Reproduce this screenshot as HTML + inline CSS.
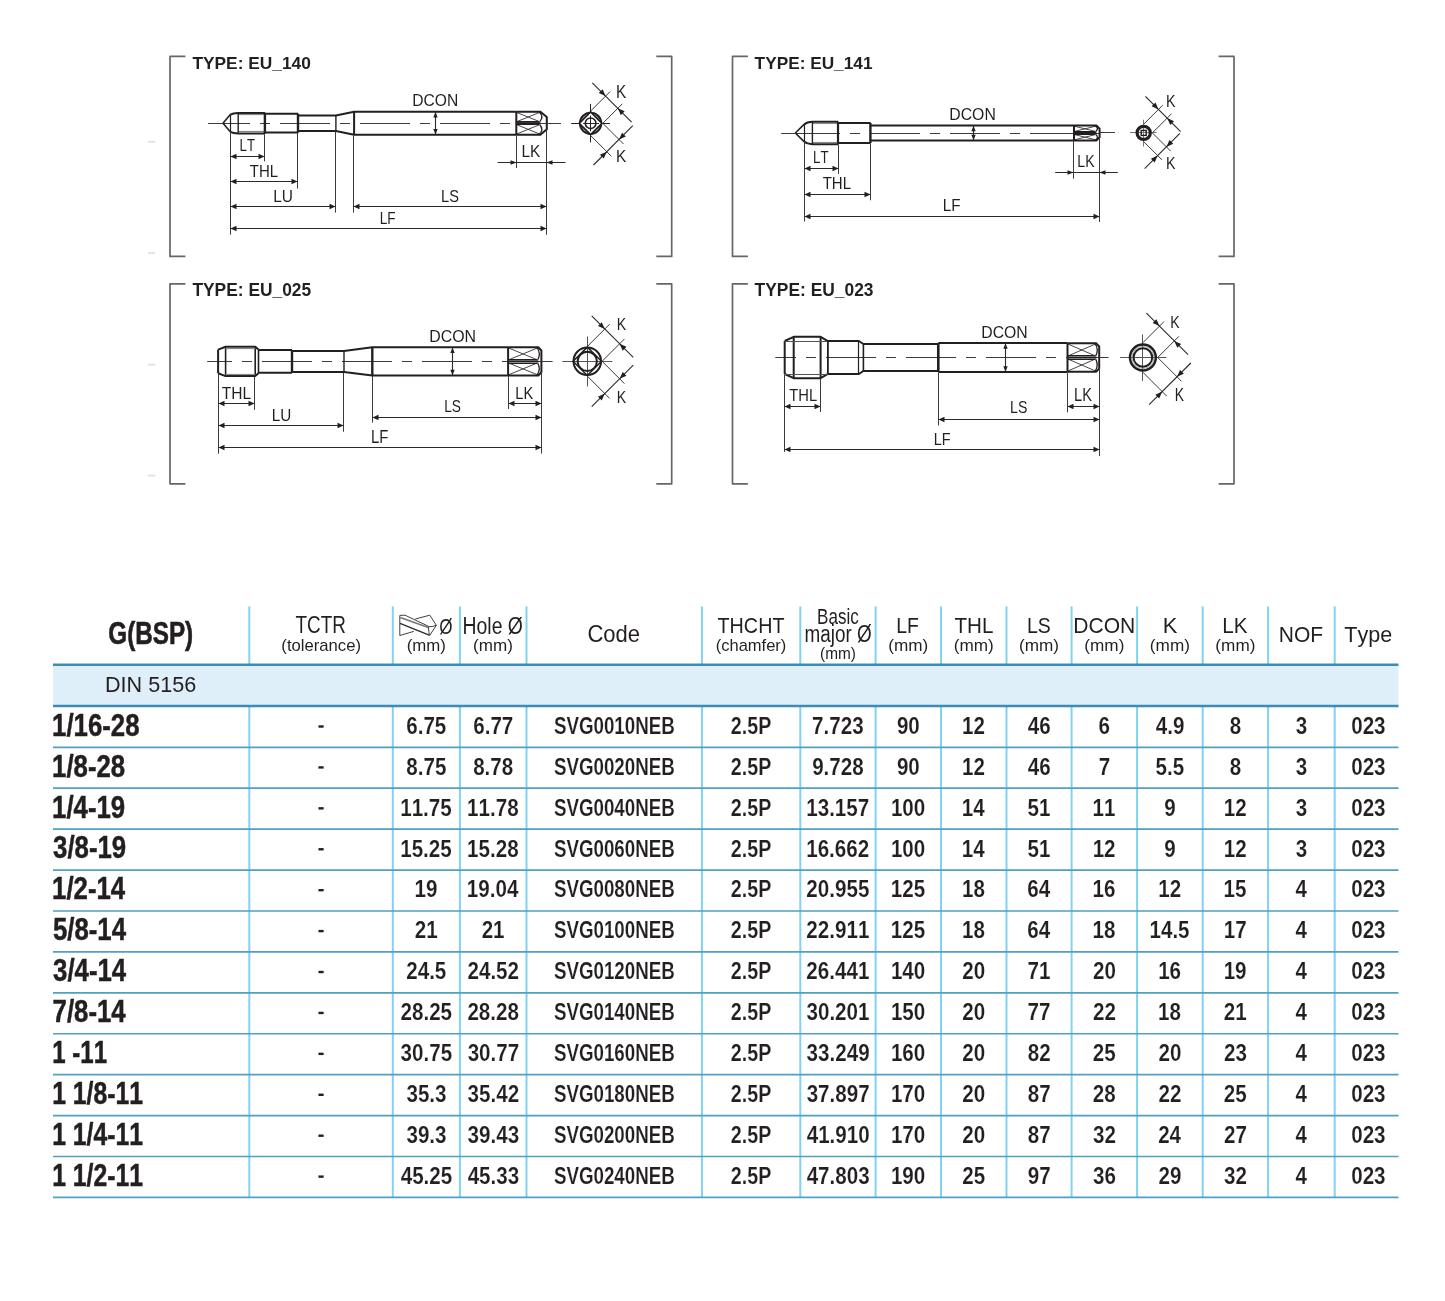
<!DOCTYPE html><html><head><meta charset="utf-8"><title>G(BSP) DIN 5156</title><style>html,body{margin:0;padding:0;background:#fff;}body{width:1445px;height:1301px;overflow:hidden;position:relative;}svg{position:absolute;left:0;top:0;will-change:transform;font-family:"Liberation Sans",sans-serif;font-kerning:none;}text{font-kerning:none;}</style></head><body>
<svg width="1445" height="1301" viewBox="0 0 1445 1301">
<line x1="148" y1="141.8" x2="155.2" y2="141.8" stroke="#e3e3e3" stroke-width="2"/>
<line x1="148" y1="253.1" x2="155.2" y2="253.1" stroke="#e3e3e3" stroke-width="2"/>
<line x1="148" y1="364.6" x2="155.2" y2="364.6" stroke="#e3e3e3" stroke-width="2"/>
<line x1="148" y1="475.6" x2="155.2" y2="475.6" stroke="#e3e3e3" stroke-width="2"/>
<path d="M185.4 56.4 L170 56.4 L170 256.4 L185.4 256.4" stroke="#666" stroke-width="1.7" fill="none" stroke-linejoin="round"/>
<path d="M656.3 56.4 L671.7 56.4 L671.7 256.4 L656.3 256.4" stroke="#666" stroke-width="1.7" fill="none" stroke-linejoin="round"/>
<path d="M747.9 56.4 L732.5 56.4 L732.5 256.4 L747.9 256.4" stroke="#666" stroke-width="1.7" fill="none" stroke-linejoin="round"/>
<path d="M1218.6 56.4 L1234 56.4 L1234 256.4 L1218.6 256.4" stroke="#666" stroke-width="1.7" fill="none" stroke-linejoin="round"/>
<path d="M185.4 283.8 L170 283.8 L170 483.8 L185.4 483.8" stroke="#666" stroke-width="1.7" fill="none" stroke-linejoin="round"/>
<path d="M656.3 283.8 L671.7 283.8 L671.7 483.8 L656.3 483.8" stroke="#666" stroke-width="1.7" fill="none" stroke-linejoin="round"/>
<path d="M747.9 283.8 L732.5 283.8 L732.5 483.8 L747.9 483.8" stroke="#666" stroke-width="1.7" fill="none" stroke-linejoin="round"/>
<path d="M1218.6 283.8 L1234 283.8 L1234 483.8 L1218.6 483.8" stroke="#666" stroke-width="1.7" fill="none" stroke-linejoin="round"/>
<text x="192.41" y="68.5" style="font-size:17.3px;font-weight:bold;" fill="#231f20" textLength="118.51" lengthAdjust="spacingAndGlyphs">TYPE: EU_140</text>
<text x="754.61" y="68.5" style="font-size:17.3px;font-weight:bold;" fill="#231f20" textLength="117.87" lengthAdjust="spacingAndGlyphs">TYPE: EU_141</text>
<text x="192.4" y="296.1" style="font-size:17.73px;font-weight:bold;" fill="#231f20" textLength="118.78" lengthAdjust="spacingAndGlyphs">TYPE: EU_025</text>
<text x="754.6" y="296.1" style="font-size:17.73px;font-weight:bold;" fill="#231f20" textLength="118.92" lengthAdjust="spacingAndGlyphs">TYPE: EU_023</text>
<line x1="208" y1="123.5" x2="223" y2="123.5" stroke="#3c3c3c" stroke-width="1"/>
<line x1="223" y1="123.5" x2="546.8" y2="123.5" stroke="#3c3c3c" stroke-width="1" stroke-dasharray="50 10 10 10" stroke-dashoffset="23"/>
<path d="M223 123.2 L230.3 114.6" stroke="#231f20" stroke-width="1.6" fill="none" stroke-linejoin="round"/>
<path d="M223 123.2 L230.3 131.8" stroke="#231f20" stroke-width="1.6" fill="none" stroke-linejoin="round"/>
<path d="M230.3 114.6 Q233 113 238.2 112.9 L265 112.9" stroke="#231f20" stroke-width="2" fill="none"/>
<path d="M230.3 131.8 Q233 133.4 238.2 133.5 L265 133.5" stroke="#231f20" stroke-width="2" fill="none"/>
<path d="M265 113.8 L298.2 113.8" stroke="#231f20" stroke-width="2" fill="none" stroke-linejoin="round"/>
<path d="M265 132.6 L298.2 132.6" stroke="#231f20" stroke-width="2" fill="none" stroke-linejoin="round"/>
<path d="M298.2 115.4 L335.9 115.4 L354.1 111.7 L516.3 111.7" stroke="#231f20" stroke-width="2" fill="none" stroke-linejoin="round"/>
<path d="M298.2 131 L335.9 131 L354.1 134.7 L516.3 134.7" stroke="#231f20" stroke-width="2" fill="none" stroke-linejoin="round"/>
<line x1="238.2" y1="114.5" x2="265" y2="114.5" stroke="#888" stroke-width="1.2"/>
<line x1="238.2" y1="131.5" x2="265" y2="131.5" stroke="#888" stroke-width="1.2"/>
<line x1="230.5" y1="114.6" x2="230.5" y2="131.8" stroke="#231f20" stroke-width="1.2"/>
<line x1="238.2" y1="112.9" x2="238.2" y2="133.5" stroke="#231f20" stroke-width="1.4"/>
<line x1="264.9" y1="112.9" x2="264.9" y2="133.5" stroke="#231f20" stroke-width="2.4"/>
<line x1="298" y1="113.8" x2="298" y2="132.6" stroke="#231f20" stroke-width="2.4"/>
<line x1="335.9" y1="115.4" x2="335.9" y2="131" stroke="#231f20" stroke-width="1.4"/>
<line x1="354.1" y1="111.7" x2="354.1" y2="134.7" stroke="#231f20" stroke-width="2"/>
<line x1="516.9" y1="112.5" x2="539.4" y2="121.6" stroke="#333" stroke-width="0.9"/>
<line x1="516.9" y1="121.6" x2="539.4" y2="112.5" stroke="#333" stroke-width="0.9"/>
<line x1="516.9" y1="133.9" x2="539.4" y2="124.8" stroke="#333" stroke-width="0.9"/>
<line x1="516.9" y1="124.8" x2="539.4" y2="133.9" stroke="#333" stroke-width="0.9"/>
<line x1="516.3" y1="123.2" x2="540.4" y2="123.2" stroke="#231f20" stroke-width="2.2"/>
<line x1="516.3" y1="121.5" x2="539.4" y2="121.5" stroke="#231f20" stroke-width="1"/>
<line x1="516.3" y1="124.5" x2="539.4" y2="124.5" stroke="#231f20" stroke-width="1"/>
<path d="M539.2 112.1 Q544.2 116.65 539.8 121.6" stroke="#231f20" stroke-width="1.3" fill="none"/>
<path d="M539.8 124.8 Q544.2 129.75 539.2 134.3" stroke="#231f20" stroke-width="1.3" fill="none"/>
<path d="M516.3 111.7 L540.4 111.7 L546.8 117.1 L546.8 129.3 L540.4 134.7 L516.3 134.7" stroke="#231f20" stroke-width="2" fill="none" stroke-linejoin="round"/>
<line x1="516.3" y1="111.7" x2="516.3" y2="134.7" stroke="#231f20" stroke-width="2"/>
<line x1="435.5" y1="112" x2="435.5" y2="134.4" stroke="#2a2a2a" stroke-width="1.1"/>
<path d="M435.5 112L437.7 117.5L433.3 117.5Z" fill="#231f20"/>
<path d="M435.5 134.4L433.3 128.9L437.7 128.9Z" fill="#231f20"/>
<text x="412.32" y="106.4" style="font-size:16.72px;" fill="#231f20" textLength="45.95" lengthAdjust="spacingAndGlyphs">DCON</text>
<line x1="230.5" y1="133" x2="230.5" y2="234.6" stroke="#3a3a3a" stroke-width="1"/>
<line x1="264.5" y1="134.3" x2="264.5" y2="161.4" stroke="#3a3a3a" stroke-width="1"/>
<line x1="297.5" y1="133" x2="297.5" y2="188.6" stroke="#3a3a3a" stroke-width="1"/>
<line x1="335.5" y1="131.5" x2="335.5" y2="212.6" stroke="#3a3a3a" stroke-width="1"/>
<line x1="353.5" y1="135.5" x2="353.5" y2="212.6" stroke="#3a3a3a" stroke-width="1"/>
<line x1="516.5" y1="135.5" x2="516.5" y2="168" stroke="#3a3a3a" stroke-width="1"/>
<line x1="546.5" y1="129.5" x2="546.5" y2="234.8" stroke="#3a3a3a" stroke-width="1"/>
<line x1="230.5" y1="156.5" x2="264.5" y2="156.5" stroke="#2a2a2a" stroke-width="1.1"/>
<path d="M230.5 156.5L236.5 153.8L236.5 159.2Z" fill="#231f20"/>
<path d="M264.5 156.5L258.5 159.2L258.5 153.8Z" fill="#231f20"/>
<text x="239.51" y="150.5" style="font-size:17.15px;" fill="#231f20" textLength="15.49" lengthAdjust="spacingAndGlyphs">LT</text>
<line x1="230.5" y1="181.5" x2="297.5" y2="181.5" stroke="#2a2a2a" stroke-width="1.1"/>
<path d="M230.5 181.5L236.5 178.8L236.5 184.2Z" fill="#231f20"/>
<path d="M297.5 181.5L291.5 184.2L291.5 178.8Z" fill="#231f20"/>
<text x="249.86" y="177.4" style="font-size:17.15px;" fill="#231f20" textLength="28.33" lengthAdjust="spacingAndGlyphs">THL</text>
<line x1="230.5" y1="206.5" x2="335.5" y2="206.5" stroke="#2a2a2a" stroke-width="1.1"/>
<path d="M230.5 206.5L236.5 203.8L236.5 209.2Z" fill="#231f20"/>
<path d="M335.5 206.5L329.5 209.2L329.5 203.8Z" fill="#231f20"/>
<text x="273.23" y="201.7" style="font-size:17.15px;" fill="#231f20" textLength="19.76" lengthAdjust="spacingAndGlyphs">LU</text>
<line x1="353.5" y1="206.5" x2="546.5" y2="206.5" stroke="#2a2a2a" stroke-width="1.1"/>
<path d="M353.5 206.5L359.5 203.8L359.5 209.2Z" fill="#231f20"/>
<path d="M546.5 206.5L540.5 209.2L540.5 203.8Z" fill="#231f20"/>
<text x="441.1" y="202.1" style="font-size:17.15px;" fill="#231f20" textLength="17.87" lengthAdjust="spacingAndGlyphs">LS</text>
<line x1="230.5" y1="228.5" x2="546.5" y2="228.5" stroke="#2a2a2a" stroke-width="1.1"/>
<path d="M230.5 228.5L236.5 225.8L236.5 231.2Z" fill="#231f20"/>
<path d="M546.5 228.5L540.5 231.2L540.5 225.8Z" fill="#231f20"/>
<text x="379.69" y="223.5" style="font-size:17.15px;" fill="#231f20" textLength="15.86" lengthAdjust="spacingAndGlyphs">LF</text>
<line x1="497.6" y1="162.5" x2="565.5" y2="162.5" stroke="#2a2a2a" stroke-width="1.1"/>
<path d="M516.5 162.5L510.5 164.8L510.5 160.2Z" fill="#231f20"/>
<path d="M546.5 162.5L552.5 160.2L552.5 164.8Z" fill="#231f20"/>
<text x="521.43" y="156.6" style="font-size:17.15px;" fill="#231f20" textLength="18.94" lengthAdjust="spacingAndGlyphs">LK</text>
<line x1="546.8" y1="123.5" x2="561" y2="123.5" stroke="#3c3c3c" stroke-width="1"/>
<circle cx="590.6" cy="123.3" r="10.7" fill="#b3b3b3" stroke="#231f20" stroke-width="1.9"/>
<path d="M590.6 111.9L602 123.3L590.6 134.7L579.2 123.3Z" fill="#fff" stroke="#231f20" stroke-width="1.7" stroke-linejoin="round"/>
<circle cx="590.6" cy="123.3" r="5.3" fill="none" stroke="#231f20" stroke-width="1.6"/>
<line x1="571.2" y1="123.5" x2="579.6" y2="123.5" stroke="#222" stroke-width="1"/>
<line x1="601.6" y1="123.5" x2="610" y2="123.5" stroke="#222" stroke-width="1"/>
<line x1="590.5" y1="103.9" x2="590.5" y2="112.3" stroke="#222" stroke-width="1"/>
<line x1="590.5" y1="134.3" x2="590.5" y2="142.4" stroke="#222" stroke-width="1"/>
<line x1="583.2" y1="123.5" x2="598.9" y2="123.5" stroke="#222" stroke-width="1"/>
<line x1="590.5" y1="115.6" x2="590.5" y2="131.3" stroke="#222" stroke-width="1"/>
<line x1="590.6" y1="111.1" x2="610.13" y2="91.57" stroke="#3a3a3a" stroke-width="1"/>
<line x1="602.8" y1="123.3" x2="622.33" y2="103.77" stroke="#3a3a3a" stroke-width="1"/>
<line x1="592.31" y1="82.81" x2="631.59" y2="122.09" stroke="#2a2a2a" stroke-width="1.1"/>
<path d="M605.6 96.1L598.74 93.06L602.56 89.24Z" fill="#231f20"/>
<path d="M617.8 108.3L624.66 111.34L620.84 115.16Z" fill="#231f20"/>
<line x1="590.6" y1="135.5" x2="611.33" y2="156.23" stroke="#3a3a3a" stroke-width="1"/>
<line x1="602.8" y1="123.3" x2="623.53" y2="144.03" stroke="#3a3a3a" stroke-width="1"/>
<line x1="593.51" y1="164.99" x2="632.79" y2="125.71" stroke="#2a2a2a" stroke-width="1.1"/>
<path d="M606.8 151.7L603.76 158.56L599.94 154.74Z" fill="#231f20"/>
<path d="M619 139.5L622.04 132.64L625.86 136.46Z" fill="#231f20"/>
<text x="615.94" y="97.5" style="font-size:17.44px;" fill="#231f20" textLength="10.23" lengthAdjust="spacingAndGlyphs">K</text>
<text x="615.94" y="161.8" style="font-size:17.15px;" fill="#231f20" textLength="10.23" lengthAdjust="spacingAndGlyphs">K</text>
<line x1="781.2" y1="133.5" x2="795.3" y2="133.5" stroke="#3c3c3c" stroke-width="1"/>
<line x1="795.3" y1="133.5" x2="1099.6" y2="133.5" stroke="#3c3c3c" stroke-width="1" stroke-dasharray="50 10 10 10" stroke-dashoffset="5.3"/>
<path d="M795.3 133 L804.1 124.4" stroke="#231f20" stroke-width="1.6" fill="none" stroke-linejoin="round"/>
<path d="M795.3 133 L804.1 141.6" stroke="#231f20" stroke-width="1.6" fill="none" stroke-linejoin="round"/>
<path d="M804.1 124.4 Q807 122 812.4 121.8 L838.2 121.8" stroke="#231f20" stroke-width="2" fill="none"/>
<path d="M804.1 141.6 Q807 144 812.4 144.2 L838.2 144.2" stroke="#231f20" stroke-width="2" fill="none"/>
<path d="M838.2 123 L870.6 123" stroke="#231f20" stroke-width="2" fill="none" stroke-linejoin="round"/>
<path d="M838.2 143 L870.6 143" stroke="#231f20" stroke-width="2" fill="none" stroke-linejoin="round"/>
<path d="M870.6 125.45 L1074 125.45" stroke="#231f20" stroke-width="2" fill="none" stroke-linejoin="round"/>
<path d="M870.6 140.55 L1074 140.55" stroke="#231f20" stroke-width="2" fill="none" stroke-linejoin="round"/>
<line x1="812.4" y1="123.5" x2="838.2" y2="123.5" stroke="#888" stroke-width="1.1"/>
<line x1="812.4" y1="142.5" x2="838.2" y2="142.5" stroke="#888" stroke-width="1.1"/>
<line x1="804.5" y1="124.4" x2="804.5" y2="141.6" stroke="#231f20" stroke-width="1.2"/>
<line x1="812.4" y1="121.8" x2="812.4" y2="144.2" stroke="#231f20" stroke-width="1.4"/>
<line x1="838" y1="121.8" x2="838" y2="144.2" stroke="#231f20" stroke-width="2.2"/>
<line x1="870.4" y1="123" x2="870.4" y2="143" stroke="#231f20" stroke-width="2.4"/>
<line x1="1074.6" y1="126.25" x2="1095.4" y2="131.4" stroke="#333" stroke-width="0.9"/>
<line x1="1074.6" y1="131.4" x2="1095.4" y2="126.25" stroke="#333" stroke-width="0.9"/>
<line x1="1074.6" y1="139.75" x2="1095.4" y2="134.6" stroke="#333" stroke-width="0.9"/>
<line x1="1074.6" y1="134.6" x2="1095.4" y2="139.75" stroke="#333" stroke-width="0.9"/>
<line x1="1074" y1="133" x2="1096.4" y2="133" stroke="#231f20" stroke-width="2.2"/>
<line x1="1074" y1="131.5" x2="1095.4" y2="131.5" stroke="#231f20" stroke-width="1"/>
<line x1="1074" y1="134.5" x2="1095.4" y2="134.5" stroke="#231f20" stroke-width="1"/>
<path d="M1095.2 125.85 Q1099.36 128.43 1095.8 131.4" stroke="#231f20" stroke-width="1.3" fill="none"/>
<path d="M1095.8 134.6 Q1099.36 137.57 1095.2 140.15" stroke="#231f20" stroke-width="1.3" fill="none"/>
<path d="M1074 125.45 L1096.4 125.45 L1099.6 128.75 L1099.6 137.25 L1096.4 140.55 L1074 140.55" stroke="#231f20" stroke-width="2" fill="none" stroke-linejoin="round"/>
<line x1="1074" y1="125.45" x2="1074" y2="140.55" stroke="#231f20" stroke-width="2"/>
<line x1="973.5" y1="125.7" x2="973.5" y2="140.3" stroke="#2a2a2a" stroke-width="1.1"/>
<path d="M973.5 125.7L975.7 131.2L971.3 131.2Z" fill="#231f20"/>
<path d="M973.5 140.3L971.3 134.8L975.7 134.8Z" fill="#231f20"/>
<text x="949.3" y="119.7" style="font-size:17.15px;" fill="#231f20" textLength="46.48" lengthAdjust="spacingAndGlyphs">DCON</text>
<line x1="804.5" y1="142" x2="804.5" y2="221.5" stroke="#3a3a3a" stroke-width="1"/>
<line x1="838.5" y1="144.5" x2="838.5" y2="173.8" stroke="#3a3a3a" stroke-width="1"/>
<line x1="870.5" y1="143.5" x2="870.5" y2="200.3" stroke="#3a3a3a" stroke-width="1"/>
<line x1="1073.5" y1="141" x2="1073.5" y2="178.7" stroke="#3a3a3a" stroke-width="1"/>
<line x1="1099.5" y1="138" x2="1099.5" y2="222" stroke="#3a3a3a" stroke-width="1"/>
<line x1="804.5" y1="168.5" x2="838.5" y2="168.5" stroke="#2a2a2a" stroke-width="1.1"/>
<path d="M804.5 168.5L810.5 165.8L810.5 171.2Z" fill="#231f20"/>
<path d="M838.5 168.5L832.5 171.2L832.5 165.8Z" fill="#231f20"/>
<text x="813.01" y="162.6" style="font-size:17.15px;" fill="#231f20" textLength="15.49" lengthAdjust="spacingAndGlyphs">LT</text>
<line x1="804.5" y1="194.5" x2="870.5" y2="194.5" stroke="#2a2a2a" stroke-width="1.1"/>
<path d="M804.5 194.5L810.5 191.8L810.5 197.2Z" fill="#231f20"/>
<path d="M870.5 194.5L864.5 197.2L864.5 191.8Z" fill="#231f20"/>
<text x="822.66" y="189.1" style="font-size:17.15px;" fill="#231f20" textLength="28.44" lengthAdjust="spacingAndGlyphs">THL</text>
<line x1="804.5" y1="216.5" x2="1099.5" y2="216.5" stroke="#2a2a2a" stroke-width="1.1"/>
<path d="M804.5 216.5L810.5 213.8L810.5 219.2Z" fill="#231f20"/>
<path d="M1099.5 216.5L1093.5 219.2L1093.5 213.8Z" fill="#231f20"/>
<text x="942.75" y="210.8" style="font-size:17.15px;" fill="#231f20" textLength="17.76" lengthAdjust="spacingAndGlyphs">LF</text>
<line x1="1055.2" y1="172.5" x2="1117.8" y2="172.5" stroke="#2a2a2a" stroke-width="1.1"/>
<path d="M1073.5 172.5L1067.5 174.8L1067.5 170.2Z" fill="#231f20"/>
<path d="M1099.5 172.5L1105.5 170.2L1105.5 174.8Z" fill="#231f20"/>
<text x="1077.35" y="167.3" style="font-size:17.15px;" fill="#231f20" textLength="17.21" lengthAdjust="spacingAndGlyphs">LK</text>
<line x1="1099.6" y1="132.5" x2="1115" y2="132.5" stroke="#3c3c3c" stroke-width="1"/>
<line x1="1130" y1="132.5" x2="1156.7" y2="132.5" stroke="#777" stroke-width="1"/>
<line x1="1143.5" y1="119.7" x2="1143.5" y2="146.5" stroke="#777" stroke-width="1"/>
<circle cx="1143.7" cy="132.9" r="6.6" fill="none" stroke="#231f20" stroke-width="3.2"/>
<rect x="1141.2" y="130.4" width="5" height="5" fill="none" stroke="#231f20" stroke-width="1.4"/>
<line x1="1143.7" y1="124.2" x2="1162.74" y2="105.16" stroke="#3a3a3a" stroke-width="1"/>
<line x1="1152.4" y1="132.9" x2="1171.44" y2="113.86" stroke="#3a3a3a" stroke-width="1"/>
<line x1="1145.42" y1="96.32" x2="1180.64" y2="131.54" stroke="#2a2a2a" stroke-width="1.1"/>
<path d="M1158.5 109.4L1151.64 106.36L1155.46 102.54Z" fill="#231f20"/>
<path d="M1167.2 118.1L1174.06 121.14L1170.24 124.96Z" fill="#231f20"/>
<line x1="1143.7" y1="141.6" x2="1161.94" y2="159.84" stroke="#3a3a3a" stroke-width="1"/>
<line x1="1152.4" y1="132.9" x2="1170.64" y2="151.14" stroke="#3a3a3a" stroke-width="1"/>
<line x1="1144.62" y1="168.68" x2="1179.84" y2="133.46" stroke="#2a2a2a" stroke-width="1.1"/>
<path d="M1157.7 155.6L1154.66 162.46L1150.84 158.64Z" fill="#231f20"/>
<path d="M1166.4 146.9L1169.44 140.04L1173.26 143.86Z" fill="#231f20"/>
<text x="1166.03" y="107.3" style="font-size:17.01px;" fill="#231f20" textLength="9.53" lengthAdjust="spacingAndGlyphs">K</text>
<text x="1166.03" y="169" style="font-size:17.01px;" fill="#231f20" textLength="9.53" lengthAdjust="spacingAndGlyphs">K</text>
<line x1="207.2" y1="361.5" x2="218.1" y2="361.5" stroke="#3c3c3c" stroke-width="1"/>
<line x1="218.1" y1="361.5" x2="541.4" y2="361.5" stroke="#3c3c3c" stroke-width="1" stroke-dasharray="50 10 10 10" stroke-dashoffset="36.1"/>
<line x1="218.1" y1="349.6" x2="218.1" y2="373.2" stroke="#231f20" stroke-width="2"/>
<path d="M218.1 349.6 L225.6 346.7 L255.2 346.7 L258.5 349.6" stroke="#231f20" stroke-width="2" fill="none" stroke-linejoin="round"/>
<path d="M218.1 373.2 L225.6 376.1 L255.2 376.1 L258.5 373.2" stroke="#231f20" stroke-width="2" fill="none" stroke-linejoin="round"/>
<line x1="225.6" y1="346.7" x2="225.6" y2="376.1" stroke="#231f20" stroke-width="1.6"/>
<line x1="255.2" y1="346.7" x2="255.2" y2="376.1" stroke="#231f20" stroke-width="1.6"/>
<line x1="225.6" y1="348.5" x2="255.2" y2="348.5" stroke="#888" stroke-width="1.2"/>
<line x1="225.6" y1="374.5" x2="255.2" y2="374.5" stroke="#888" stroke-width="1.2"/>
<line x1="258.5" y1="349.6" x2="258.5" y2="373.2" stroke="#231f20" stroke-width="1.6"/>
<path d="M258.5 350 L292 350" stroke="#231f20" stroke-width="2" fill="none" stroke-linejoin="round"/>
<path d="M258.5 372.8 L292 372.8" stroke="#231f20" stroke-width="2" fill="none" stroke-linejoin="round"/>
<line x1="292" y1="350" x2="292" y2="372.8" stroke="#231f20" stroke-width="2.4"/>
<path d="M292 350.9 L344 350.9 L372.3 347.3 L508.1 347.3" stroke="#231f20" stroke-width="2" fill="none" stroke-linejoin="round"/>
<path d="M292 371.9 L344 371.9 L372.3 375.5 L508.1 375.5" stroke="#231f20" stroke-width="2" fill="none" stroke-linejoin="round"/>
<line x1="344" y1="350.9" x2="344" y2="371.9" stroke="#231f20" stroke-width="1.4"/>
<line x1="372.3" y1="347.3" x2="372.3" y2="375.5" stroke="#231f20" stroke-width="2.4"/>
<line x1="508.7" y1="348.05" x2="537.3" y2="359.8" stroke="#333" stroke-width="0.9"/>
<line x1="508.7" y1="359.8" x2="537.3" y2="348.05" stroke="#333" stroke-width="0.9"/>
<line x1="508.7" y1="374.75" x2="537.3" y2="363" stroke="#333" stroke-width="0.9"/>
<line x1="508.7" y1="363" x2="537.3" y2="374.75" stroke="#333" stroke-width="0.9"/>
<line x1="508.1" y1="361.4" x2="538.3" y2="361.4" stroke="#231f20" stroke-width="2.2"/>
<line x1="508.1" y1="359.5" x2="537.3" y2="359.5" stroke="#231f20" stroke-width="1"/>
<line x1="508.1" y1="363.5" x2="537.3" y2="363.5" stroke="#231f20" stroke-width="1"/>
<path d="M537.1 347.65 Q541.21 353.52 537.7 359.8" stroke="#231f20" stroke-width="1.3" fill="none"/>
<path d="M537.7 363 Q541.21 369.27 537.1 375.15" stroke="#231f20" stroke-width="1.3" fill="none"/>
<path d="M508.1 347.25 L538.3 347.25 L541.4 350.55 L541.4 372.25 L538.3 375.55 L508.1 375.55" stroke="#231f20" stroke-width="2" fill="none" stroke-linejoin="round"/>
<line x1="508.1" y1="347.25" x2="508.1" y2="375.55" stroke="#231f20" stroke-width="2"/>
<line x1="452.5" y1="347.5" x2="452.5" y2="375.3" stroke="#2a2a2a" stroke-width="1.1"/>
<path d="M452.5 347.5L454.7 353L450.3 353Z" fill="#231f20"/>
<path d="M452.5 375.3L450.3 369.8L454.7 369.8Z" fill="#231f20"/>
<text x="429.3" y="341.5" style="font-size:17.15px;" fill="#231f20" textLength="46.8" lengthAdjust="spacingAndGlyphs">DCON</text>
<line x1="218.5" y1="374" x2="218.5" y2="453.7" stroke="#3a3a3a" stroke-width="1"/>
<line x1="254.5" y1="377" x2="254.5" y2="409.8" stroke="#3a3a3a" stroke-width="1"/>
<line x1="343.5" y1="373" x2="343.5" y2="431.8" stroke="#3a3a3a" stroke-width="1"/>
<line x1="372.5" y1="376" x2="372.5" y2="422.6" stroke="#3a3a3a" stroke-width="1"/>
<line x1="508.5" y1="376" x2="508.5" y2="409" stroke="#3a3a3a" stroke-width="1"/>
<line x1="541.5" y1="372" x2="541.5" y2="453.5" stroke="#3a3a3a" stroke-width="1"/>
<line x1="218.5" y1="403.5" x2="254.5" y2="403.5" stroke="#2a2a2a" stroke-width="1.1"/>
<path d="M218.5 403.5L224.5 400.8L224.5 406.2Z" fill="#231f20"/>
<path d="M254.5 403.5L248.5 406.2L248.5 400.8Z" fill="#231f20"/>
<text x="221.85" y="398.8" style="font-size:17.3px;" fill="#231f20" textLength="29.37" lengthAdjust="spacingAndGlyphs">THL</text>
<line x1="218.5" y1="425.5" x2="343.5" y2="425.5" stroke="#2a2a2a" stroke-width="1.1"/>
<path d="M218.5 425.5L224.5 422.8L224.5 428.2Z" fill="#231f20"/>
<path d="M343.5 425.5L337.5 428.2L337.5 422.8Z" fill="#231f20"/>
<text x="271.65" y="420.6" style="font-size:17.15px;" fill="#231f20" textLength="19.53" lengthAdjust="spacingAndGlyphs">LU</text>
<line x1="372.5" y1="417.5" x2="541.5" y2="417.5" stroke="#2a2a2a" stroke-width="1.1"/>
<path d="M372.5 417.5L378.5 414.8L378.5 420.2Z" fill="#231f20"/>
<path d="M541.5 417.5L535.5 420.2L535.5 414.8Z" fill="#231f20"/>
<text x="444.18" y="412" style="font-size:17.3px;" fill="#231f20" textLength="16.75" lengthAdjust="spacingAndGlyphs">LS</text>
<line x1="508.5" y1="403.5" x2="541.5" y2="403.5" stroke="#2a2a2a" stroke-width="1.1"/>
<path d="M508.5 403.5L514.5 400.8L514.5 406.2Z" fill="#231f20"/>
<path d="M541.5 403.5L535.5 406.2L535.5 400.8Z" fill="#231f20"/>
<text x="515.3" y="398.7" style="font-size:17.15px;" fill="#231f20" textLength="17.86" lengthAdjust="spacingAndGlyphs">LK</text>
<line x1="218.5" y1="447.5" x2="541.5" y2="447.5" stroke="#2a2a2a" stroke-width="1.1"/>
<path d="M218.5 447.5L224.5 444.8L224.5 450.2Z" fill="#231f20"/>
<path d="M541.5 447.5L535.5 450.2L535.5 444.8Z" fill="#231f20"/>
<text x="370.98" y="442.6" style="font-size:17.44px;" fill="#231f20" textLength="17.31" lengthAdjust="spacingAndGlyphs">LF</text>
<line x1="541.4" y1="361.5" x2="552.6" y2="361.5" stroke="#3c3c3c" stroke-width="1"/>
<line x1="562.3" y1="361.5" x2="612.3" y2="361.5" stroke="#555" stroke-width="1"/>
<line x1="587.5" y1="336.5" x2="587.5" y2="386.5" stroke="#555" stroke-width="1"/>
<circle cx="587.3" cy="361.3" r="13.8" fill="none" stroke="#231f20" stroke-width="2.0"/>
<circle cx="587.3" cy="361.3" r="9.6" fill="none" stroke="#231f20" stroke-width="2.0"/>
<path d="M587.3 347.1L601.5 361.3L587.3 375.5L573.1 361.3Z" fill="none" stroke="#231f20" stroke-width="1.5" stroke-linejoin="round"/>
<line x1="587.3" y1="346.5" x2="609.61" y2="324.19" stroke="#3a3a3a" stroke-width="1"/>
<line x1="602.1" y1="361.3" x2="624.41" y2="338.99" stroke="#3a3a3a" stroke-width="1"/>
<line x1="591.72" y1="315.92" x2="633.25" y2="357.45" stroke="#2a2a2a" stroke-width="1.1"/>
<path d="M604.8 329L597.94 325.96L601.76 322.14Z" fill="#231f20"/>
<path d="M619.6 343.8L626.46 346.84L622.64 350.66Z" fill="#231f20"/>
<line x1="587.3" y1="376.1" x2="609.61" y2="398.41" stroke="#3a3a3a" stroke-width="1"/>
<line x1="602.1" y1="361.3" x2="624.41" y2="383.61" stroke="#3a3a3a" stroke-width="1"/>
<line x1="591.72" y1="406.68" x2="633.25" y2="365.15" stroke="#2a2a2a" stroke-width="1.1"/>
<path d="M604.8 393.6L601.76 400.46L597.94 396.64Z" fill="#231f20"/>
<path d="M619.6 378.8L622.64 371.94L626.46 375.76Z" fill="#231f20"/>
<text x="616.84" y="330.4" style="font-size:16.86px;" fill="#231f20" textLength="9.42" lengthAdjust="spacingAndGlyphs">K</text>
<text x="616.84" y="403.4" style="font-size:16.72px;" fill="#231f20" textLength="9.42" lengthAdjust="spacingAndGlyphs">K</text>
<line x1="775.3" y1="357.5" x2="784.7" y2="357.5" stroke="#3c3c3c" stroke-width="1"/>
<line x1="784.7" y1="357.5" x2="1099.2" y2="357.5" stroke="#3c3c3c" stroke-width="1" stroke-dasharray="50 10 10 10" stroke-dashoffset="38.7"/>
<line x1="784.7" y1="341" x2="784.7" y2="374" stroke="#231f20" stroke-width="2"/>
<path d="M784.7 341 L793.7 336.8 L820.6 336.8 L827.9 341.2" stroke="#231f20" stroke-width="2" fill="none" stroke-linejoin="round"/>
<path d="M784.7 374 L793.7 378.2 L820.6 378.2 L827.9 373.8" stroke="#231f20" stroke-width="2" fill="none" stroke-linejoin="round"/>
<line x1="793.7" y1="336.8" x2="793.7" y2="378.2" stroke="#231f20" stroke-width="2"/>
<line x1="820.6" y1="336.8" x2="820.6" y2="378.2" stroke="#231f20" stroke-width="2"/>
<line x1="784.7" y1="341.5" x2="827.9" y2="341.5" stroke="#555" stroke-width="1.1"/>
<line x1="784.7" y1="374.5" x2="827.9" y2="374.5" stroke="#555" stroke-width="1.1"/>
<line x1="827.9" y1="341.2" x2="827.9" y2="373.8" stroke="#231f20" stroke-width="1.8"/>
<path d="M827.9 341 L858.8 341 L863.4 344 L938.3 344" stroke="#231f20" stroke-width="2" fill="none" stroke-linejoin="round"/>
<path d="M827.9 374 L858.8 374 L863.4 371 L938.3 371" stroke="#231f20" stroke-width="2" fill="none" stroke-linejoin="round"/>
<line x1="858.5" y1="341" x2="858.5" y2="374" stroke="#231f20" stroke-width="1.2"/>
<line x1="863.4" y1="344" x2="863.4" y2="371" stroke="#231f20" stroke-width="1.6"/>
<path d="M938.3 343.1 L1067.5 343.1" stroke="#231f20" stroke-width="2" fill="none" stroke-linejoin="round"/>
<path d="M938.3 371.9 L1067.5 371.9" stroke="#231f20" stroke-width="2" fill="none" stroke-linejoin="round"/>
<line x1="938.3" y1="343.1" x2="938.3" y2="371.9" stroke="#231f20" stroke-width="2.6"/>
<line x1="1068.1" y1="344.1" x2="1095.3" y2="355.9" stroke="#333" stroke-width="0.9"/>
<line x1="1068.1" y1="355.9" x2="1095.3" y2="344.1" stroke="#333" stroke-width="0.9"/>
<line x1="1068.1" y1="370.9" x2="1095.3" y2="359.1" stroke="#333" stroke-width="0.9"/>
<line x1="1068.1" y1="359.1" x2="1095.3" y2="370.9" stroke="#333" stroke-width="0.9"/>
<line x1="1067.5" y1="357.5" x2="1096.3" y2="357.5" stroke="#231f20" stroke-width="2.2"/>
<line x1="1067.5" y1="355.5" x2="1095.3" y2="355.5" stroke="#231f20" stroke-width="1"/>
<line x1="1067.5" y1="359.5" x2="1095.3" y2="359.5" stroke="#231f20" stroke-width="1"/>
<path d="M1095.1 343.7 Q1099.1 349.6 1095.7 355.9" stroke="#231f20" stroke-width="1.3" fill="none"/>
<path d="M1095.7 359.1 Q1099.1 365.4 1095.1 371.3" stroke="#231f20" stroke-width="1.3" fill="none"/>
<path d="M1067.5 343.3 L1096.3 343.3 L1099.2 346.5 L1099.2 368.5 L1096.3 371.7 L1067.5 371.7" stroke="#231f20" stroke-width="2" fill="none" stroke-linejoin="round"/>
<line x1="1067.5" y1="343.3" x2="1067.5" y2="371.7" stroke="#231f20" stroke-width="2"/>
<line x1="1005.5" y1="343.3" x2="1005.5" y2="371.7" stroke="#2a2a2a" stroke-width="1.1"/>
<path d="M1005.5 343.3L1007.7 348.8L1003.3 348.8Z" fill="#231f20"/>
<path d="M1005.5 371.7L1003.3 366.2L1007.7 366.2Z" fill="#231f20"/>
<text x="981.31" y="337.7" style="font-size:17.15px;" fill="#231f20" textLength="46.38" lengthAdjust="spacingAndGlyphs">DCON</text>
<line x1="784.5" y1="375" x2="784.5" y2="452" stroke="#3a3a3a" stroke-width="1"/>
<line x1="820.5" y1="379" x2="820.5" y2="412" stroke="#3a3a3a" stroke-width="1"/>
<line x1="938.5" y1="373" x2="938.5" y2="425.4" stroke="#3a3a3a" stroke-width="1"/>
<line x1="1067.5" y1="373" x2="1067.5" y2="412.3" stroke="#3a3a3a" stroke-width="1"/>
<line x1="1099.5" y1="368" x2="1099.5" y2="456.1" stroke="#3a3a3a" stroke-width="1"/>
<line x1="784.5" y1="406.5" x2="820.5" y2="406.5" stroke="#2a2a2a" stroke-width="1.1"/>
<path d="M784.5 406.5L790.5 403.8L790.5 409.2Z" fill="#231f20"/>
<path d="M820.5 406.5L814.5 409.2L814.5 403.8Z" fill="#231f20"/>
<text x="789.37" y="400.5" style="font-size:17.15px;" fill="#231f20" textLength="27.82" lengthAdjust="spacingAndGlyphs">THL</text>
<line x1="938.5" y1="419.5" x2="1099.5" y2="419.5" stroke="#2a2a2a" stroke-width="1.1"/>
<path d="M938.5 419.5L944.5 416.8L944.5 422.2Z" fill="#231f20"/>
<path d="M1099.5 419.5L1093.5 422.2L1093.5 416.8Z" fill="#231f20"/>
<text x="1010.04" y="413.3" style="font-size:17.3px;" fill="#231f20" textLength="17.31" lengthAdjust="spacingAndGlyphs">LS</text>
<line x1="1067.5" y1="406.5" x2="1099.5" y2="406.5" stroke="#2a2a2a" stroke-width="1.1"/>
<path d="M1067.5 406.5L1073.5 403.8L1073.5 409.2Z" fill="#231f20"/>
<path d="M1099.5 406.5L1093.5 409.2L1093.5 403.8Z" fill="#231f20"/>
<text x="1074.1" y="401.1" style="font-size:17.44px;" fill="#231f20" textLength="17.86" lengthAdjust="spacingAndGlyphs">LK</text>
<line x1="784.5" y1="449.5" x2="1099.5" y2="449.5" stroke="#2a2a2a" stroke-width="1.1"/>
<path d="M784.5 449.5L790.5 446.8L790.5 452.2Z" fill="#231f20"/>
<path d="M1099.5 449.5L1093.5 452.2L1093.5 446.8Z" fill="#231f20"/>
<text x="933.81" y="444.8" style="font-size:17.3px;" fill="#231f20" textLength="16.86" lengthAdjust="spacingAndGlyphs">LF</text>
<line x1="1099.2" y1="357.5" x2="1108.6" y2="357.5" stroke="#3c3c3c" stroke-width="1"/>
<line x1="1120.1" y1="357.5" x2="1166.5" y2="357.5" stroke="#555" stroke-width="1"/>
<line x1="1142.5" y1="334.5" x2="1142.5" y2="380.9" stroke="#555" stroke-width="1"/>
<circle cx="1142.9" cy="357.5" r="12.9" fill="none" stroke="#231f20" stroke-width="2.5"/>
<circle cx="1142.9" cy="357.5" r="11.0" fill="none" stroke="#999" stroke-width="0.8"/>
<circle cx="1142.9" cy="357.5" r="9.3" fill="none" stroke="#231f20" stroke-width="2.0"/>
<line x1="1142.9" y1="342.7" x2="1164.03" y2="321.57" stroke="#3a3a3a" stroke-width="1"/>
<line x1="1157.7" y1="357.5" x2="1178.83" y2="336.37" stroke="#3a3a3a" stroke-width="1"/>
<line x1="1146.42" y1="313.02" x2="1188.09" y2="354.69" stroke="#2a2a2a" stroke-width="1.1"/>
<path d="M1159.5 326.1L1152.64 323.06L1156.46 319.24Z" fill="#231f20"/>
<path d="M1174.3 340.9L1181.16 343.94L1177.34 347.76Z" fill="#231f20"/>
<line x1="1142.9" y1="372.3" x2="1166.73" y2="396.13" stroke="#3a3a3a" stroke-width="1"/>
<line x1="1157.7" y1="357.5" x2="1181.53" y2="381.33" stroke="#3a3a3a" stroke-width="1"/>
<line x1="1149.12" y1="404.68" x2="1190.79" y2="363.01" stroke="#2a2a2a" stroke-width="1.1"/>
<path d="M1162.2 391.6L1159.16 398.46L1155.34 394.64Z" fill="#231f20"/>
<path d="M1177 376.8L1180.04 369.94L1183.86 373.76Z" fill="#231f20"/>
<text x="1170.14" y="327.6" style="font-size:17.01px;" fill="#231f20" textLength="9.42" lengthAdjust="spacingAndGlyphs">K</text>
<text x="1174.66" y="401" style="font-size:17.59px;" fill="#231f20" textLength="9.3" lengthAdjust="spacingAndGlyphs">K</text>
<rect x="53" y="665.5" width="1345.5" height="39.5" fill="#deeffa"/>
<line x1="249.3" y1="606.4" x2="249.3" y2="664" stroke="#80d2f4" stroke-width="2"/>
<line x1="249.3" y1="706.8" x2="249.3" y2="1197" stroke="#80d2f4" stroke-width="2"/>
<line x1="392.8" y1="606.4" x2="392.8" y2="664" stroke="#80d2f4" stroke-width="2"/>
<line x1="392.8" y1="706.8" x2="392.8" y2="1197" stroke="#80d2f4" stroke-width="2"/>
<line x1="459.9" y1="606.4" x2="459.9" y2="664" stroke="#80d2f4" stroke-width="2"/>
<line x1="459.9" y1="706.8" x2="459.9" y2="1197" stroke="#80d2f4" stroke-width="2"/>
<line x1="526.5" y1="606.4" x2="526.5" y2="664" stroke="#80d2f4" stroke-width="2"/>
<line x1="526.5" y1="706.8" x2="526.5" y2="1197" stroke="#80d2f4" stroke-width="2"/>
<line x1="701.9" y1="606.4" x2="701.9" y2="664" stroke="#80d2f4" stroke-width="2"/>
<line x1="701.9" y1="706.8" x2="701.9" y2="1197" stroke="#80d2f4" stroke-width="2"/>
<line x1="800.3" y1="606.4" x2="800.3" y2="664" stroke="#80d2f4" stroke-width="2"/>
<line x1="800.3" y1="706.8" x2="800.3" y2="1197" stroke="#80d2f4" stroke-width="2"/>
<line x1="875.6" y1="606.4" x2="875.6" y2="664" stroke="#80d2f4" stroke-width="2"/>
<line x1="875.6" y1="706.8" x2="875.6" y2="1197" stroke="#80d2f4" stroke-width="2"/>
<line x1="941" y1="606.4" x2="941" y2="664" stroke="#80d2f4" stroke-width="2"/>
<line x1="941" y1="706.8" x2="941" y2="1197" stroke="#80d2f4" stroke-width="2"/>
<line x1="1006.5" y1="606.4" x2="1006.5" y2="664" stroke="#80d2f4" stroke-width="2"/>
<line x1="1006.5" y1="706.8" x2="1006.5" y2="1197" stroke="#80d2f4" stroke-width="2"/>
<line x1="1071.6" y1="606.4" x2="1071.6" y2="664" stroke="#80d2f4" stroke-width="2"/>
<line x1="1071.6" y1="706.8" x2="1071.6" y2="1197" stroke="#80d2f4" stroke-width="2"/>
<line x1="1137.1" y1="606.4" x2="1137.1" y2="664" stroke="#80d2f4" stroke-width="2"/>
<line x1="1137.1" y1="706.8" x2="1137.1" y2="1197" stroke="#80d2f4" stroke-width="2"/>
<line x1="1202.7" y1="606.4" x2="1202.7" y2="664" stroke="#80d2f4" stroke-width="2"/>
<line x1="1202.7" y1="706.8" x2="1202.7" y2="1197" stroke="#80d2f4" stroke-width="2"/>
<line x1="1268.1" y1="606.4" x2="1268.1" y2="664" stroke="#80d2f4" stroke-width="2"/>
<line x1="1268.1" y1="706.8" x2="1268.1" y2="1197" stroke="#80d2f4" stroke-width="2"/>
<line x1="1334.7" y1="606.4" x2="1334.7" y2="664" stroke="#80d2f4" stroke-width="2"/>
<line x1="1334.7" y1="706.8" x2="1334.7" y2="1197" stroke="#80d2f4" stroke-width="2"/>
<line x1="53" y1="664.8" x2="1398.5" y2="664.8" stroke="#3b8db5" stroke-width="2.5"/>
<line x1="53" y1="705.9" x2="1398.5" y2="705.9" stroke="#3b8db5" stroke-width="2.5"/>
<line x1="53" y1="747.3" x2="1398.5" y2="747.3" stroke="#519fc3" stroke-width="1.7"/>
<line x1="53" y1="788.22" x2="1398.5" y2="788.22" stroke="#519fc3" stroke-width="1.7"/>
<line x1="53" y1="829.14" x2="1398.5" y2="829.14" stroke="#519fc3" stroke-width="1.7"/>
<line x1="53" y1="870.06" x2="1398.5" y2="870.06" stroke="#519fc3" stroke-width="1.7"/>
<line x1="53" y1="910.98" x2="1398.5" y2="910.98" stroke="#519fc3" stroke-width="1.7"/>
<line x1="53" y1="951.9" x2="1398.5" y2="951.9" stroke="#519fc3" stroke-width="1.7"/>
<line x1="53" y1="992.82" x2="1398.5" y2="992.82" stroke="#519fc3" stroke-width="1.7"/>
<line x1="53" y1="1033.74" x2="1398.5" y2="1033.74" stroke="#519fc3" stroke-width="1.7"/>
<line x1="53" y1="1074.66" x2="1398.5" y2="1074.66" stroke="#519fc3" stroke-width="1.7"/>
<line x1="53" y1="1115.58" x2="1398.5" y2="1115.58" stroke="#519fc3" stroke-width="1.7"/>
<line x1="53" y1="1156.5" x2="1398.5" y2="1156.5" stroke="#519fc3" stroke-width="1.7"/>
<line x1="53" y1="1197.42" x2="1398.5" y2="1197.42" stroke="#519fc3" stroke-width="1.7"/>
<text x="108.31" y="643.6" style="font-size:30.52px;font-weight:bold;" fill="#231f20" textLength="84.9" lengthAdjust="spacingAndGlyphs" stroke="#231f20" stroke-width="0.6">G(BSP)</text>
<text x="295.58" y="633.2" style="font-size:23.11px;" fill="#231f20" textLength="50.3" lengthAdjust="spacingAndGlyphs">TCTR</text>
<text x="281.37" y="650.9" style="font-size:16.4px;" fill="#231f20" textLength="79.67" lengthAdjust="spacingAndGlyphs">(tolerance)</text>
<g fill="none" stroke="#2a2a2a" stroke-width="0.9" stroke-linejoin="round"><path d="M399.8 615.4 L399.8 635.5 L413.8 631.4"/><path d="M399.8 615.4 L405 615.2 L428.3 626.2"/><path d="M400.3 617.6 L428.3 627.6" stroke="#777" stroke-width="1.6"/><path d="M415.3 619 L429.8 615.2 L436.3 625.3 L429.8 635.3"/><path d="M400 623.4 L429.8 635.3" stroke-width="1.3"/><path d="M428.3 626.6 L429.3 634.6"/><path d="M428.3 626.6 Q432 627.2 436.3 625.3"/></g>
<text x="439.31" y="633.6" style="font-size:21.5px;" fill="#231f20" textLength="13.27" lengthAdjust="spacingAndGlyphs">Ø</text>
<text x="406.71" y="650.8" style="font-size:16.4px;" fill="#231f20" textLength="39.18" lengthAdjust="spacingAndGlyphs">(mm)</text>
<text x="462.51" y="633.5" style="font-size:23.26px;" fill="#231f20" textLength="60.45" lengthAdjust="spacingAndGlyphs">Hole Ø</text>
<text x="473.09" y="650.8" style="font-size:16.4px;" fill="#231f20" textLength="39.82" lengthAdjust="spacingAndGlyphs">(mm)</text>
<text x="587.38" y="641.9" style="font-size:23.11px;" fill="#231f20" textLength="52.59" lengthAdjust="spacingAndGlyphs">Code</text>
<text x="717.56" y="633" style="font-size:22.67px;" fill="#231f20" textLength="66.9" lengthAdjust="spacingAndGlyphs">THCHT</text>
<text x="715.78" y="650.8" style="font-size:16.4px;" fill="#231f20" textLength="70.55" lengthAdjust="spacingAndGlyphs">(chamfer)</text>
<text x="817.1" y="624.3" style="font-size:22.97px;" fill="#231f20" textLength="41.75" lengthAdjust="spacingAndGlyphs">Basic</text>
<text x="804.55" y="641.5" style="font-size:23px;" fill="#231f20" textLength="67.19" lengthAdjust="spacingAndGlyphs">major Ø</text>
<text x="820.05" y="659.2" style="font-size:16.4px;" fill="#231f20" textLength="35.91" lengthAdjust="spacingAndGlyphs">(mm)</text>
<text x="896.21" y="633.3" style="font-size:22.67px;" fill="#231f20" textLength="22.67" lengthAdjust="spacingAndGlyphs">LF</text>
<text x="888.29" y="650.8" style="font-size:16.4px;" fill="#231f20" textLength="40.03" lengthAdjust="spacingAndGlyphs">(mm)</text>
<text x="954.44" y="633.3" style="font-size:22.67px;" fill="#231f20" textLength="38.95" lengthAdjust="spacingAndGlyphs">THL</text>
<text x="953.74" y="650.8" style="font-size:16.4px;" fill="#231f20" textLength="40.03" lengthAdjust="spacingAndGlyphs">(mm)</text>
<text x="1027" y="633.3" style="font-size:22.67px;" fill="#231f20" textLength="23.79" lengthAdjust="spacingAndGlyphs">LS</text>
<text x="1019.04" y="650.8" style="font-size:16.4px;" fill="#231f20" textLength="40.03" lengthAdjust="spacingAndGlyphs">(mm)</text>
<text x="1073.27" y="633.3" style="font-size:22.67px;" fill="#231f20" textLength="62.05" lengthAdjust="spacingAndGlyphs">DCON</text>
<text x="1084.34" y="650.8" style="font-size:16.4px;" fill="#231f20" textLength="40.03" lengthAdjust="spacingAndGlyphs">(mm)</text>
<text x="1162.8" y="633.3" style="font-size:22.67px;" fill="#231f20" textLength="14.65" lengthAdjust="spacingAndGlyphs">K</text>
<text x="1149.89" y="650.8" style="font-size:16.4px;" fill="#231f20" textLength="40.03" lengthAdjust="spacingAndGlyphs">(mm)</text>
<text x="1222.3" y="633.3" style="font-size:22.67px;" fill="#231f20" textLength="25.33" lengthAdjust="spacingAndGlyphs">LK</text>
<text x="1215.39" y="650.8" style="font-size:16.4px;" fill="#231f20" textLength="40.03" lengthAdjust="spacingAndGlyphs">(mm)</text>
<text x="1278.78" y="642.1" style="font-size:21.95px;" fill="#231f20" textLength="44.37" lengthAdjust="spacingAndGlyphs">NOF</text>
<text x="1344.32" y="642.1" style="font-size:21.95px;" fill="#231f20" textLength="47.94" lengthAdjust="spacingAndGlyphs">Type</text>
<text x="105.03" y="692.2" style="font-size:22.53px;" fill="#231f20" textLength="91.22" lengthAdjust="spacingAndGlyphs">DIN 5156</text>
<text x="52.08" y="735.7" style="font-size:31.8px;font-weight:bold;" fill="#231f20" textLength="87.42" lengthAdjust="spacingAndGlyphs" stroke="#231f20" stroke-width="0.5">1/16-28</text>
<line x1="318.45" y1="726.5" x2="323.65" y2="726.5" stroke="#231f20" stroke-width="2.4"/>
<text x="406.21" y="733.8" style="font-size:24.1px;font-weight:bold;" fill="#231f20" textLength="40.1" lengthAdjust="spacingAndGlyphs" stroke="#fff" stroke-width="0.15">6.75</text>
<text x="473.22" y="733.8" style="font-size:24.1px;font-weight:bold;" fill="#231f20" textLength="40.1" lengthAdjust="spacingAndGlyphs" stroke="#fff" stroke-width="0.15">6.77</text>
<text x="553.93" y="733.8" style="font-size:24.1px;font-weight:bold;" fill="#231f20" textLength="120.85" lengthAdjust="spacingAndGlyphs" stroke="#fff" stroke-width="0.15">SVG0010NEB</text>
<text x="730.85" y="733.8" style="font-size:24.1px;font-weight:bold;" fill="#231f20" textLength="40.49" lengthAdjust="spacingAndGlyphs" stroke="#fff" stroke-width="0.15">2.5P</text>
<text x="812.1" y="733.8" style="font-size:24.1px;font-weight:bold;" fill="#231f20" textLength="51.56" lengthAdjust="spacingAndGlyphs" stroke="#fff" stroke-width="0.15">7.723</text>
<text x="896.91" y="733.8" style="font-size:24.1px;font-weight:bold;" fill="#231f20" textLength="22.92" lengthAdjust="spacingAndGlyphs" stroke="#fff" stroke-width="0.15">90</text>
<text x="962.05" y="733.8" style="font-size:24.1px;font-weight:bold;" fill="#231f20" textLength="22.92" lengthAdjust="spacingAndGlyphs" stroke="#fff" stroke-width="0.15">12</text>
<text x="1027.81" y="733.8" style="font-size:24.1px;font-weight:bold;" fill="#231f20" textLength="22.92" lengthAdjust="spacingAndGlyphs" stroke="#fff" stroke-width="0.15">46</text>
<text x="1098.62" y="733.8" style="font-size:24.1px;font-weight:bold;" fill="#231f20" textLength="11.46" lengthAdjust="spacingAndGlyphs" stroke="#fff" stroke-width="0.15">6</text>
<text x="1155.8" y="733.8" style="font-size:24.1px;font-weight:bold;" fill="#231f20" textLength="28.64" lengthAdjust="spacingAndGlyphs" stroke="#fff" stroke-width="0.15">4.9</text>
<text x="1229.66" y="733.8" style="font-size:24.1px;font-weight:bold;" fill="#231f20" textLength="11.46" lengthAdjust="spacingAndGlyphs" stroke="#fff" stroke-width="0.15">8</text>
<text x="1295.81" y="733.8" style="font-size:24.1px;font-weight:bold;" fill="#231f20" textLength="11.46" lengthAdjust="spacingAndGlyphs" stroke="#fff" stroke-width="0.15">3</text>
<text x="1351.18" y="733.8" style="font-size:24.1px;font-weight:bold;" fill="#231f20" textLength="34.38" lengthAdjust="spacingAndGlyphs" stroke="#fff" stroke-width="0.15">023</text>
<text x="52.08" y="776.62" style="font-size:31.8px;font-weight:bold;" fill="#231f20" textLength="73.08" lengthAdjust="spacingAndGlyphs" stroke="#231f20" stroke-width="0.5">1/8-28</text>
<line x1="318.45" y1="767.42" x2="323.65" y2="767.42" stroke="#231f20" stroke-width="2.4"/>
<text x="406.26" y="774.72" style="font-size:24.1px;font-weight:bold;" fill="#231f20" textLength="40.1" lengthAdjust="spacingAndGlyphs" stroke="#fff" stroke-width="0.15">8.75</text>
<text x="473.14" y="774.72" style="font-size:24.1px;font-weight:bold;" fill="#231f20" textLength="40.1" lengthAdjust="spacingAndGlyphs" stroke="#fff" stroke-width="0.15">8.78</text>
<text x="553.93" y="774.72" style="font-size:24.1px;font-weight:bold;" fill="#231f20" textLength="120.85" lengthAdjust="spacingAndGlyphs" stroke="#fff" stroke-width="0.15">SVG0020NEB</text>
<text x="730.85" y="774.72" style="font-size:24.1px;font-weight:bold;" fill="#231f20" textLength="40.49" lengthAdjust="spacingAndGlyphs" stroke="#fff" stroke-width="0.15">2.5P</text>
<text x="812.13" y="774.72" style="font-size:24.1px;font-weight:bold;" fill="#231f20" textLength="51.56" lengthAdjust="spacingAndGlyphs" stroke="#fff" stroke-width="0.15">9.728</text>
<text x="896.91" y="774.72" style="font-size:24.1px;font-weight:bold;" fill="#231f20" textLength="22.92" lengthAdjust="spacingAndGlyphs" stroke="#fff" stroke-width="0.15">90</text>
<text x="962.05" y="774.72" style="font-size:24.1px;font-weight:bold;" fill="#231f20" textLength="22.92" lengthAdjust="spacingAndGlyphs" stroke="#fff" stroke-width="0.15">12</text>
<text x="1027.81" y="774.72" style="font-size:24.1px;font-weight:bold;" fill="#231f20" textLength="22.92" lengthAdjust="spacingAndGlyphs" stroke="#fff" stroke-width="0.15">46</text>
<text x="1098.63" y="774.72" style="font-size:24.1px;font-weight:bold;" fill="#231f20" textLength="11.46" lengthAdjust="spacingAndGlyphs" stroke="#fff" stroke-width="0.15">7</text>
<text x="1155.55" y="774.72" style="font-size:24.1px;font-weight:bold;" fill="#231f20" textLength="28.64" lengthAdjust="spacingAndGlyphs" stroke="#fff" stroke-width="0.15">5.5</text>
<text x="1229.66" y="774.72" style="font-size:24.1px;font-weight:bold;" fill="#231f20" textLength="11.46" lengthAdjust="spacingAndGlyphs" stroke="#fff" stroke-width="0.15">8</text>
<text x="1295.81" y="774.72" style="font-size:24.1px;font-weight:bold;" fill="#231f20" textLength="11.46" lengthAdjust="spacingAndGlyphs" stroke="#fff" stroke-width="0.15">3</text>
<text x="1351.18" y="774.72" style="font-size:24.1px;font-weight:bold;" fill="#231f20" textLength="34.38" lengthAdjust="spacingAndGlyphs" stroke="#fff" stroke-width="0.15">023</text>
<text x="52.08" y="817.54" style="font-size:31.8px;font-weight:bold;" fill="#231f20" textLength="73.08" lengthAdjust="spacingAndGlyphs" stroke="#231f20" stroke-width="0.5">1/4-19</text>
<line x1="318.45" y1="808.34" x2="323.65" y2="808.34" stroke="#231f20" stroke-width="2.4"/>
<text x="400.21" y="815.64" style="font-size:24.1px;font-weight:bold;" fill="#231f20" textLength="51.56" lengthAdjust="spacingAndGlyphs" stroke="#fff" stroke-width="0.15">11.75</text>
<text x="467.09" y="815.64" style="font-size:24.1px;font-weight:bold;" fill="#231f20" textLength="51.56" lengthAdjust="spacingAndGlyphs" stroke="#fff" stroke-width="0.15">11.78</text>
<text x="553.93" y="815.64" style="font-size:24.1px;font-weight:bold;" fill="#231f20" textLength="120.85" lengthAdjust="spacingAndGlyphs" stroke="#fff" stroke-width="0.15">SVG0040NEB</text>
<text x="730.85" y="815.64" style="font-size:24.1px;font-weight:bold;" fill="#231f20" textLength="40.49" lengthAdjust="spacingAndGlyphs" stroke="#fff" stroke-width="0.15">2.5P</text>
<text x="806.24" y="815.64" style="font-size:24.1px;font-weight:bold;" fill="#231f20" textLength="63.02" lengthAdjust="spacingAndGlyphs" stroke="#fff" stroke-width="0.15">13.157</text>
<text x="890.88" y="815.64" style="font-size:24.1px;font-weight:bold;" fill="#231f20" textLength="34.38" lengthAdjust="spacingAndGlyphs" stroke="#fff" stroke-width="0.15">100</text>
<text x="961.7" y="815.64" style="font-size:24.1px;font-weight:bold;" fill="#231f20" textLength="22.92" lengthAdjust="spacingAndGlyphs" stroke="#fff" stroke-width="0.15">14</text>
<text x="1027.56" y="815.64" style="font-size:24.1px;font-weight:bold;" fill="#231f20" textLength="22.92" lengthAdjust="spacingAndGlyphs" stroke="#fff" stroke-width="0.15">51</text>
<text x="1092.53" y="815.64" style="font-size:24.1px;font-weight:bold;" fill="#231f20" textLength="22.92" lengthAdjust="spacingAndGlyphs" stroke="#fff" stroke-width="0.15">11</text>
<text x="1164.2" y="815.64" style="font-size:24.1px;font-weight:bold;" fill="#231f20" textLength="11.46" lengthAdjust="spacingAndGlyphs" stroke="#fff" stroke-width="0.15">9</text>
<text x="1223.7" y="815.64" style="font-size:24.1px;font-weight:bold;" fill="#231f20" textLength="22.92" lengthAdjust="spacingAndGlyphs" stroke="#fff" stroke-width="0.15">12</text>
<text x="1295.81" y="815.64" style="font-size:24.1px;font-weight:bold;" fill="#231f20" textLength="11.46" lengthAdjust="spacingAndGlyphs" stroke="#fff" stroke-width="0.15">3</text>
<text x="1351.18" y="815.64" style="font-size:24.1px;font-weight:bold;" fill="#231f20" textLength="34.38" lengthAdjust="spacingAndGlyphs" stroke="#fff" stroke-width="0.15">023</text>
<text x="53.11" y="858.46" style="font-size:31.8px;font-weight:bold;" fill="#231f20" textLength="73.08" lengthAdjust="spacingAndGlyphs" stroke="#231f20" stroke-width="0.5">3/8-19</text>
<line x1="318.45" y1="849.26" x2="323.65" y2="849.26" stroke="#231f20" stroke-width="2.4"/>
<text x="400.21" y="856.56" style="font-size:24.1px;font-weight:bold;" fill="#231f20" textLength="51.56" lengthAdjust="spacingAndGlyphs" stroke="#fff" stroke-width="0.15">15.25</text>
<text x="467.09" y="856.56" style="font-size:24.1px;font-weight:bold;" fill="#231f20" textLength="51.56" lengthAdjust="spacingAndGlyphs" stroke="#fff" stroke-width="0.15">15.28</text>
<text x="553.93" y="856.56" style="font-size:24.1px;font-weight:bold;" fill="#231f20" textLength="120.85" lengthAdjust="spacingAndGlyphs" stroke="#fff" stroke-width="0.15">SVG0060NEB</text>
<text x="730.85" y="856.56" style="font-size:24.1px;font-weight:bold;" fill="#231f20" textLength="40.49" lengthAdjust="spacingAndGlyphs" stroke="#fff" stroke-width="0.15">2.5P</text>
<text x="806.2" y="856.56" style="font-size:24.1px;font-weight:bold;" fill="#231f20" textLength="63.02" lengthAdjust="spacingAndGlyphs" stroke="#fff" stroke-width="0.15">16.662</text>
<text x="890.88" y="856.56" style="font-size:24.1px;font-weight:bold;" fill="#231f20" textLength="34.38" lengthAdjust="spacingAndGlyphs" stroke="#fff" stroke-width="0.15">100</text>
<text x="961.7" y="856.56" style="font-size:24.1px;font-weight:bold;" fill="#231f20" textLength="22.92" lengthAdjust="spacingAndGlyphs" stroke="#fff" stroke-width="0.15">14</text>
<text x="1027.56" y="856.56" style="font-size:24.1px;font-weight:bold;" fill="#231f20" textLength="22.92" lengthAdjust="spacingAndGlyphs" stroke="#fff" stroke-width="0.15">51</text>
<text x="1092.65" y="856.56" style="font-size:24.1px;font-weight:bold;" fill="#231f20" textLength="22.92" lengthAdjust="spacingAndGlyphs" stroke="#fff" stroke-width="0.15">12</text>
<text x="1164.2" y="856.56" style="font-size:24.1px;font-weight:bold;" fill="#231f20" textLength="11.46" lengthAdjust="spacingAndGlyphs" stroke="#fff" stroke-width="0.15">9</text>
<text x="1223.7" y="856.56" style="font-size:24.1px;font-weight:bold;" fill="#231f20" textLength="22.92" lengthAdjust="spacingAndGlyphs" stroke="#fff" stroke-width="0.15">12</text>
<text x="1295.81" y="856.56" style="font-size:24.1px;font-weight:bold;" fill="#231f20" textLength="11.46" lengthAdjust="spacingAndGlyphs" stroke="#fff" stroke-width="0.15">3</text>
<text x="1351.18" y="856.56" style="font-size:24.1px;font-weight:bold;" fill="#231f20" textLength="34.38" lengthAdjust="spacingAndGlyphs" stroke="#fff" stroke-width="0.15">023</text>
<text x="52.08" y="899.38" style="font-size:31.8px;font-weight:bold;" fill="#231f20" textLength="73.08" lengthAdjust="spacingAndGlyphs" stroke="#231f20" stroke-width="0.5">1/2-14</text>
<line x1="318.45" y1="890.18" x2="323.65" y2="890.18" stroke="#231f20" stroke-width="2.4"/>
<text x="414.62" y="897.48" style="font-size:24.1px;font-weight:bold;" fill="#231f20" textLength="22.92" lengthAdjust="spacingAndGlyphs" stroke="#fff" stroke-width="0.15">19</text>
<text x="466.82" y="897.48" style="font-size:24.1px;font-weight:bold;" fill="#231f20" textLength="51.56" lengthAdjust="spacingAndGlyphs" stroke="#fff" stroke-width="0.15">19.04</text>
<text x="553.93" y="897.48" style="font-size:24.1px;font-weight:bold;" fill="#231f20" textLength="120.85" lengthAdjust="spacingAndGlyphs" stroke="#fff" stroke-width="0.15">SVG0080NEB</text>
<text x="730.85" y="897.48" style="font-size:24.1px;font-weight:bold;" fill="#231f20" textLength="40.49" lengthAdjust="spacingAndGlyphs" stroke="#fff" stroke-width="0.15">2.5P</text>
<text x="806.37" y="897.48" style="font-size:24.1px;font-weight:bold;" fill="#231f20" textLength="63.02" lengthAdjust="spacingAndGlyphs" stroke="#fff" stroke-width="0.15">20.955</text>
<text x="890.75" y="897.48" style="font-size:24.1px;font-weight:bold;" fill="#231f20" textLength="34.38" lengthAdjust="spacingAndGlyphs" stroke="#fff" stroke-width="0.15">125</text>
<text x="961.96" y="897.48" style="font-size:24.1px;font-weight:bold;" fill="#231f20" textLength="22.92" lengthAdjust="spacingAndGlyphs" stroke="#fff" stroke-width="0.15">18</text>
<text x="1027.27" y="897.48" style="font-size:24.1px;font-weight:bold;" fill="#231f20" textLength="22.92" lengthAdjust="spacingAndGlyphs" stroke="#fff" stroke-width="0.15">64</text>
<text x="1092.61" y="897.48" style="font-size:24.1px;font-weight:bold;" fill="#231f20" textLength="22.92" lengthAdjust="spacingAndGlyphs" stroke="#fff" stroke-width="0.15">16</text>
<text x="1158.2" y="897.48" style="font-size:24.1px;font-weight:bold;" fill="#231f20" textLength="22.92" lengthAdjust="spacingAndGlyphs" stroke="#fff" stroke-width="0.15">12</text>
<text x="1223.58" y="897.48" style="font-size:24.1px;font-weight:bold;" fill="#231f20" textLength="22.92" lengthAdjust="spacingAndGlyphs" stroke="#fff" stroke-width="0.15">15</text>
<text x="1295.57" y="897.48" style="font-size:24.1px;font-weight:bold;" fill="#231f20" textLength="11.46" lengthAdjust="spacingAndGlyphs" stroke="#fff" stroke-width="0.15">4</text>
<text x="1351.18" y="897.48" style="font-size:24.1px;font-weight:bold;" fill="#231f20" textLength="34.38" lengthAdjust="spacingAndGlyphs" stroke="#fff" stroke-width="0.15">023</text>
<text x="52.91" y="940.3" style="font-size:31.8px;font-weight:bold;" fill="#231f20" textLength="73.08" lengthAdjust="spacingAndGlyphs" stroke="#231f20" stroke-width="0.5">5/8-14</text>
<line x1="318.45" y1="931.1" x2="323.65" y2="931.1" stroke="#231f20" stroke-width="2.4"/>
<text x="414.82" y="938.4" style="font-size:24.1px;font-weight:bold;" fill="#231f20" textLength="22.92" lengthAdjust="spacingAndGlyphs" stroke="#fff" stroke-width="0.15">21</text>
<text x="481.67" y="938.4" style="font-size:24.1px;font-weight:bold;" fill="#231f20" textLength="22.92" lengthAdjust="spacingAndGlyphs" stroke="#fff" stroke-width="0.15">21</text>
<text x="553.93" y="938.4" style="font-size:24.1px;font-weight:bold;" fill="#231f20" textLength="120.85" lengthAdjust="spacingAndGlyphs" stroke="#fff" stroke-width="0.15">SVG0100NEB</text>
<text x="730.85" y="938.4" style="font-size:24.1px;font-weight:bold;" fill="#231f20" textLength="40.49" lengthAdjust="spacingAndGlyphs" stroke="#fff" stroke-width="0.15">2.5P</text>
<text x="806.37" y="938.4" style="font-size:24.1px;font-weight:bold;" fill="#231f20" textLength="63.02" lengthAdjust="spacingAndGlyphs" stroke="#fff" stroke-width="0.15">22.911</text>
<text x="890.75" y="938.4" style="font-size:24.1px;font-weight:bold;" fill="#231f20" textLength="34.38" lengthAdjust="spacingAndGlyphs" stroke="#fff" stroke-width="0.15">125</text>
<text x="961.96" y="938.4" style="font-size:24.1px;font-weight:bold;" fill="#231f20" textLength="22.92" lengthAdjust="spacingAndGlyphs" stroke="#fff" stroke-width="0.15">18</text>
<text x="1027.27" y="938.4" style="font-size:24.1px;font-weight:bold;" fill="#231f20" textLength="22.92" lengthAdjust="spacingAndGlyphs" stroke="#fff" stroke-width="0.15">64</text>
<text x="1092.56" y="938.4" style="font-size:24.1px;font-weight:bold;" fill="#231f20" textLength="22.92" lengthAdjust="spacingAndGlyphs" stroke="#fff" stroke-width="0.15">18</text>
<text x="1149.49" y="938.4" style="font-size:24.1px;font-weight:bold;" fill="#231f20" textLength="40.1" lengthAdjust="spacingAndGlyphs" stroke="#fff" stroke-width="0.15">14.5</text>
<text x="1223.74" y="938.4" style="font-size:24.1px;font-weight:bold;" fill="#231f20" textLength="22.92" lengthAdjust="spacingAndGlyphs" stroke="#fff" stroke-width="0.15">17</text>
<text x="1295.57" y="938.4" style="font-size:24.1px;font-weight:bold;" fill="#231f20" textLength="11.46" lengthAdjust="spacingAndGlyphs" stroke="#fff" stroke-width="0.15">4</text>
<text x="1351.18" y="938.4" style="font-size:24.1px;font-weight:bold;" fill="#231f20" textLength="34.38" lengthAdjust="spacingAndGlyphs" stroke="#fff" stroke-width="0.15">023</text>
<text x="53.11" y="981.22" style="font-size:31.8px;font-weight:bold;" fill="#231f20" textLength="73.08" lengthAdjust="spacingAndGlyphs" stroke="#231f20" stroke-width="0.5">3/4-14</text>
<line x1="318.45" y1="972.02" x2="323.65" y2="972.02" stroke="#231f20" stroke-width="2.4"/>
<text x="406.23" y="979.32" style="font-size:24.1px;font-weight:bold;" fill="#231f20" textLength="40.1" lengthAdjust="spacingAndGlyphs" stroke="#fff" stroke-width="0.15">24.5</text>
<text x="467.47" y="979.32" style="font-size:24.1px;font-weight:bold;" fill="#231f20" textLength="51.56" lengthAdjust="spacingAndGlyphs" stroke="#fff" stroke-width="0.15">24.52</text>
<text x="553.93" y="979.32" style="font-size:24.1px;font-weight:bold;" fill="#231f20" textLength="120.85" lengthAdjust="spacingAndGlyphs" stroke="#fff" stroke-width="0.15">SVG0120NEB</text>
<text x="730.85" y="979.32" style="font-size:24.1px;font-weight:bold;" fill="#231f20" textLength="40.49" lengthAdjust="spacingAndGlyphs" stroke="#fff" stroke-width="0.15">2.5P</text>
<text x="806.37" y="979.32" style="font-size:24.1px;font-weight:bold;" fill="#231f20" textLength="63.02" lengthAdjust="spacingAndGlyphs" stroke="#fff" stroke-width="0.15">26.441</text>
<text x="890.88" y="979.32" style="font-size:24.1px;font-weight:bold;" fill="#231f20" textLength="34.38" lengthAdjust="spacingAndGlyphs" stroke="#fff" stroke-width="0.15">140</text>
<text x="962.36" y="979.32" style="font-size:24.1px;font-weight:bold;" fill="#231f20" textLength="22.92" lengthAdjust="spacingAndGlyphs" stroke="#fff" stroke-width="0.15">20</text>
<text x="1027.43" y="979.32" style="font-size:24.1px;font-weight:bold;" fill="#231f20" textLength="22.92" lengthAdjust="spacingAndGlyphs" stroke="#fff" stroke-width="0.15">71</text>
<text x="1092.96" y="979.32" style="font-size:24.1px;font-weight:bold;" fill="#231f20" textLength="22.92" lengthAdjust="spacingAndGlyphs" stroke="#fff" stroke-width="0.15">20</text>
<text x="1158.16" y="979.32" style="font-size:24.1px;font-weight:bold;" fill="#231f20" textLength="22.92" lengthAdjust="spacingAndGlyphs" stroke="#fff" stroke-width="0.15">16</text>
<text x="1223.67" y="979.32" style="font-size:24.1px;font-weight:bold;" fill="#231f20" textLength="22.92" lengthAdjust="spacingAndGlyphs" stroke="#fff" stroke-width="0.15">19</text>
<text x="1295.57" y="979.32" style="font-size:24.1px;font-weight:bold;" fill="#231f20" textLength="11.46" lengthAdjust="spacingAndGlyphs" stroke="#fff" stroke-width="0.15">4</text>
<text x="1351.18" y="979.32" style="font-size:24.1px;font-weight:bold;" fill="#231f20" textLength="34.38" lengthAdjust="spacingAndGlyphs" stroke="#fff" stroke-width="0.15">023</text>
<text x="52.59" y="1022.14" style="font-size:31.8px;font-weight:bold;" fill="#231f20" textLength="73.08" lengthAdjust="spacingAndGlyphs" stroke="#231f20" stroke-width="0.5">7/8-14</text>
<line x1="318.45" y1="1012.94" x2="323.65" y2="1012.94" stroke="#231f20" stroke-width="2.4"/>
<text x="400.5" y="1020.24" style="font-size:24.1px;font-weight:bold;" fill="#231f20" textLength="51.56" lengthAdjust="spacingAndGlyphs" stroke="#fff" stroke-width="0.15">28.25</text>
<text x="467.38" y="1020.24" style="font-size:24.1px;font-weight:bold;" fill="#231f20" textLength="51.56" lengthAdjust="spacingAndGlyphs" stroke="#fff" stroke-width="0.15">28.28</text>
<text x="553.93" y="1020.24" style="font-size:24.1px;font-weight:bold;" fill="#231f20" textLength="120.85" lengthAdjust="spacingAndGlyphs" stroke="#fff" stroke-width="0.15">SVG0140NEB</text>
<text x="730.85" y="1020.24" style="font-size:24.1px;font-weight:bold;" fill="#231f20" textLength="40.49" lengthAdjust="spacingAndGlyphs" stroke="#fff" stroke-width="0.15">2.5P</text>
<text x="806.49" y="1020.24" style="font-size:24.1px;font-weight:bold;" fill="#231f20" textLength="63.02" lengthAdjust="spacingAndGlyphs" stroke="#fff" stroke-width="0.15">30.201</text>
<text x="890.88" y="1020.24" style="font-size:24.1px;font-weight:bold;" fill="#231f20" textLength="34.38" lengthAdjust="spacingAndGlyphs" stroke="#fff" stroke-width="0.15">150</text>
<text x="962.36" y="1020.24" style="font-size:24.1px;font-weight:bold;" fill="#231f20" textLength="22.92" lengthAdjust="spacingAndGlyphs" stroke="#fff" stroke-width="0.15">20</text>
<text x="1027.6" y="1020.24" style="font-size:24.1px;font-weight:bold;" fill="#231f20" textLength="22.92" lengthAdjust="spacingAndGlyphs" stroke="#fff" stroke-width="0.15">77</text>
<text x="1092.95" y="1020.24" style="font-size:24.1px;font-weight:bold;" fill="#231f20" textLength="22.92" lengthAdjust="spacingAndGlyphs" stroke="#fff" stroke-width="0.15">22</text>
<text x="1158.11" y="1020.24" style="font-size:24.1px;font-weight:bold;" fill="#231f20" textLength="22.92" lengthAdjust="spacingAndGlyphs" stroke="#fff" stroke-width="0.15">18</text>
<text x="1223.87" y="1020.24" style="font-size:24.1px;font-weight:bold;" fill="#231f20" textLength="22.92" lengthAdjust="spacingAndGlyphs" stroke="#fff" stroke-width="0.15">21</text>
<text x="1295.57" y="1020.24" style="font-size:24.1px;font-weight:bold;" fill="#231f20" textLength="11.46" lengthAdjust="spacingAndGlyphs" stroke="#fff" stroke-width="0.15">4</text>
<text x="1351.18" y="1020.24" style="font-size:24.1px;font-weight:bold;" fill="#231f20" textLength="34.38" lengthAdjust="spacingAndGlyphs" stroke="#fff" stroke-width="0.15">023</text>
<text x="52.18" y="1063.06" style="font-size:31.8px;font-weight:bold;" fill="#231f20" textLength="54.89" lengthAdjust="spacingAndGlyphs" stroke="#231f20" stroke-width="0.5">1 -11</text>
<line x1="318.45" y1="1053.86" x2="323.65" y2="1053.86" stroke="#231f20" stroke-width="2.4"/>
<text x="400.62" y="1061.16" style="font-size:24.1px;font-weight:bold;" fill="#231f20" textLength="51.56" lengthAdjust="spacingAndGlyphs" stroke="#fff" stroke-width="0.15">30.75</text>
<text x="467.63" y="1061.16" style="font-size:24.1px;font-weight:bold;" fill="#231f20" textLength="51.56" lengthAdjust="spacingAndGlyphs" stroke="#fff" stroke-width="0.15">30.77</text>
<text x="553.93" y="1061.16" style="font-size:24.1px;font-weight:bold;" fill="#231f20" textLength="120.85" lengthAdjust="spacingAndGlyphs" stroke="#fff" stroke-width="0.15">SVG0160NEB</text>
<text x="730.85" y="1061.16" style="font-size:24.1px;font-weight:bold;" fill="#231f20" textLength="40.49" lengthAdjust="spacingAndGlyphs" stroke="#fff" stroke-width="0.15">2.5P</text>
<text x="806.58" y="1061.16" style="font-size:24.1px;font-weight:bold;" fill="#231f20" textLength="63.02" lengthAdjust="spacingAndGlyphs" stroke="#fff" stroke-width="0.15">33.249</text>
<text x="890.88" y="1061.16" style="font-size:24.1px;font-weight:bold;" fill="#231f20" textLength="34.38" lengthAdjust="spacingAndGlyphs" stroke="#fff" stroke-width="0.15">160</text>
<text x="962.36" y="1061.16" style="font-size:24.1px;font-weight:bold;" fill="#231f20" textLength="22.92" lengthAdjust="spacingAndGlyphs" stroke="#fff" stroke-width="0.15">20</text>
<text x="1027.68" y="1061.16" style="font-size:24.1px;font-weight:bold;" fill="#231f20" textLength="22.92" lengthAdjust="spacingAndGlyphs" stroke="#fff" stroke-width="0.15">82</text>
<text x="1092.82" y="1061.16" style="font-size:24.1px;font-weight:bold;" fill="#231f20" textLength="22.92" lengthAdjust="spacingAndGlyphs" stroke="#fff" stroke-width="0.15">25</text>
<text x="1158.51" y="1061.16" style="font-size:24.1px;font-weight:bold;" fill="#231f20" textLength="22.92" lengthAdjust="spacingAndGlyphs" stroke="#fff" stroke-width="0.15">20</text>
<text x="1223.96" y="1061.16" style="font-size:24.1px;font-weight:bold;" fill="#231f20" textLength="22.92" lengthAdjust="spacingAndGlyphs" stroke="#fff" stroke-width="0.15">23</text>
<text x="1295.57" y="1061.16" style="font-size:24.1px;font-weight:bold;" fill="#231f20" textLength="11.46" lengthAdjust="spacingAndGlyphs" stroke="#fff" stroke-width="0.15">4</text>
<text x="1351.18" y="1061.16" style="font-size:24.1px;font-weight:bold;" fill="#231f20" textLength="34.38" lengthAdjust="spacingAndGlyphs" stroke="#fff" stroke-width="0.15">023</text>
<text x="52.14" y="1103.98" style="font-size:31.8px;font-weight:bold;" fill="#231f20" textLength="90.78" lengthAdjust="spacingAndGlyphs" stroke="#231f20" stroke-width="0.5">1 1/8-11</text>
<line x1="318.45" y1="1094.78" x2="323.65" y2="1094.78" stroke="#231f20" stroke-width="2.4"/>
<text x="406.43" y="1102.08" style="font-size:24.1px;font-weight:bold;" fill="#231f20" textLength="40.1" lengthAdjust="spacingAndGlyphs" stroke="#fff" stroke-width="0.15">35.3</text>
<text x="467.59" y="1102.08" style="font-size:24.1px;font-weight:bold;" fill="#231f20" textLength="51.56" lengthAdjust="spacingAndGlyphs" stroke="#fff" stroke-width="0.15">35.42</text>
<text x="553.93" y="1102.08" style="font-size:24.1px;font-weight:bold;" fill="#231f20" textLength="120.85" lengthAdjust="spacingAndGlyphs" stroke="#fff" stroke-width="0.15">SVG0180NEB</text>
<text x="730.85" y="1102.08" style="font-size:24.1px;font-weight:bold;" fill="#231f20" textLength="40.49" lengthAdjust="spacingAndGlyphs" stroke="#fff" stroke-width="0.15">2.5P</text>
<text x="806.65" y="1102.08" style="font-size:24.1px;font-weight:bold;" fill="#231f20" textLength="63.02" lengthAdjust="spacingAndGlyphs" stroke="#fff" stroke-width="0.15">37.897</text>
<text x="890.88" y="1102.08" style="font-size:24.1px;font-weight:bold;" fill="#231f20" textLength="34.38" lengthAdjust="spacingAndGlyphs" stroke="#fff" stroke-width="0.15">170</text>
<text x="962.36" y="1102.08" style="font-size:24.1px;font-weight:bold;" fill="#231f20" textLength="22.92" lengthAdjust="spacingAndGlyphs" stroke="#fff" stroke-width="0.15">20</text>
<text x="1027.72" y="1102.08" style="font-size:24.1px;font-weight:bold;" fill="#231f20" textLength="22.92" lengthAdjust="spacingAndGlyphs" stroke="#fff" stroke-width="0.15">87</text>
<text x="1092.85" y="1102.08" style="font-size:24.1px;font-weight:bold;" fill="#231f20" textLength="22.92" lengthAdjust="spacingAndGlyphs" stroke="#fff" stroke-width="0.15">28</text>
<text x="1158.5" y="1102.08" style="font-size:24.1px;font-weight:bold;" fill="#231f20" textLength="22.92" lengthAdjust="spacingAndGlyphs" stroke="#fff" stroke-width="0.15">22</text>
<text x="1223.87" y="1102.08" style="font-size:24.1px;font-weight:bold;" fill="#231f20" textLength="22.92" lengthAdjust="spacingAndGlyphs" stroke="#fff" stroke-width="0.15">25</text>
<text x="1295.57" y="1102.08" style="font-size:24.1px;font-weight:bold;" fill="#231f20" textLength="11.46" lengthAdjust="spacingAndGlyphs" stroke="#fff" stroke-width="0.15">4</text>
<text x="1351.18" y="1102.08" style="font-size:24.1px;font-weight:bold;" fill="#231f20" textLength="34.38" lengthAdjust="spacingAndGlyphs" stroke="#fff" stroke-width="0.15">023</text>
<text x="52.14" y="1144.9" style="font-size:31.8px;font-weight:bold;" fill="#231f20" textLength="90.78" lengthAdjust="spacingAndGlyphs" stroke="#231f20" stroke-width="0.5">1 1/4-11</text>
<line x1="318.45" y1="1135.7" x2="323.65" y2="1135.7" stroke="#231f20" stroke-width="2.4"/>
<text x="406.43" y="1143" style="font-size:24.1px;font-weight:bold;" fill="#231f20" textLength="40.1" lengthAdjust="spacingAndGlyphs" stroke="#fff" stroke-width="0.15">39.3</text>
<text x="467.55" y="1143" style="font-size:24.1px;font-weight:bold;" fill="#231f20" textLength="51.56" lengthAdjust="spacingAndGlyphs" stroke="#fff" stroke-width="0.15">39.43</text>
<text x="553.93" y="1143" style="font-size:24.1px;font-weight:bold;" fill="#231f20" textLength="120.85" lengthAdjust="spacingAndGlyphs" stroke="#fff" stroke-width="0.15">SVG0200NEB</text>
<text x="730.85" y="1143" style="font-size:24.1px;font-weight:bold;" fill="#231f20" textLength="40.49" lengthAdjust="spacingAndGlyphs" stroke="#fff" stroke-width="0.15">2.5P</text>
<text x="806.7" y="1143" style="font-size:24.1px;font-weight:bold;" fill="#231f20" textLength="63.02" lengthAdjust="spacingAndGlyphs" stroke="#fff" stroke-width="0.15">41.910</text>
<text x="890.88" y="1143" style="font-size:24.1px;font-weight:bold;" fill="#231f20" textLength="34.38" lengthAdjust="spacingAndGlyphs" stroke="#fff" stroke-width="0.15">170</text>
<text x="962.36" y="1143" style="font-size:24.1px;font-weight:bold;" fill="#231f20" textLength="22.92" lengthAdjust="spacingAndGlyphs" stroke="#fff" stroke-width="0.15">20</text>
<text x="1027.72" y="1143" style="font-size:24.1px;font-weight:bold;" fill="#231f20" textLength="22.92" lengthAdjust="spacingAndGlyphs" stroke="#fff" stroke-width="0.15">87</text>
<text x="1093.07" y="1143" style="font-size:24.1px;font-weight:bold;" fill="#231f20" textLength="22.92" lengthAdjust="spacingAndGlyphs" stroke="#fff" stroke-width="0.15">32</text>
<text x="1158.14" y="1143" style="font-size:24.1px;font-weight:bold;" fill="#231f20" textLength="22.92" lengthAdjust="spacingAndGlyphs" stroke="#fff" stroke-width="0.15">24</text>
<text x="1224.04" y="1143" style="font-size:24.1px;font-weight:bold;" fill="#231f20" textLength="22.92" lengthAdjust="spacingAndGlyphs" stroke="#fff" stroke-width="0.15">27</text>
<text x="1295.57" y="1143" style="font-size:24.1px;font-weight:bold;" fill="#231f20" textLength="11.46" lengthAdjust="spacingAndGlyphs" stroke="#fff" stroke-width="0.15">4</text>
<text x="1351.18" y="1143" style="font-size:24.1px;font-weight:bold;" fill="#231f20" textLength="34.38" lengthAdjust="spacingAndGlyphs" stroke="#fff" stroke-width="0.15">023</text>
<text x="52.14" y="1185.82" style="font-size:31.8px;font-weight:bold;" fill="#231f20" textLength="90.78" lengthAdjust="spacingAndGlyphs" stroke="#231f20" stroke-width="0.5">1 1/2-11</text>
<line x1="318.45" y1="1176.62" x2="323.65" y2="1176.62" stroke="#231f20" stroke-width="2.4"/>
<text x="400.7" y="1183.92" style="font-size:24.1px;font-weight:bold;" fill="#231f20" textLength="51.56" lengthAdjust="spacingAndGlyphs" stroke="#fff" stroke-width="0.15">45.25</text>
<text x="467.63" y="1183.92" style="font-size:24.1px;font-weight:bold;" fill="#231f20" textLength="51.56" lengthAdjust="spacingAndGlyphs" stroke="#fff" stroke-width="0.15">45.33</text>
<text x="553.93" y="1183.92" style="font-size:24.1px;font-weight:bold;" fill="#231f20" textLength="120.85" lengthAdjust="spacingAndGlyphs" stroke="#fff" stroke-width="0.15">SVG0240NEB</text>
<text x="730.85" y="1183.92" style="font-size:24.1px;font-weight:bold;" fill="#231f20" textLength="40.49" lengthAdjust="spacingAndGlyphs" stroke="#fff" stroke-width="0.15">2.5P</text>
<text x="806.65" y="1183.92" style="font-size:24.1px;font-weight:bold;" fill="#231f20" textLength="63.02" lengthAdjust="spacingAndGlyphs" stroke="#fff" stroke-width="0.15">47.803</text>
<text x="890.88" y="1183.92" style="font-size:24.1px;font-weight:bold;" fill="#231f20" textLength="34.38" lengthAdjust="spacingAndGlyphs" stroke="#fff" stroke-width="0.15">190</text>
<text x="962.22" y="1183.92" style="font-size:24.1px;font-weight:bold;" fill="#231f20" textLength="22.92" lengthAdjust="spacingAndGlyphs" stroke="#fff" stroke-width="0.15">25</text>
<text x="1027.69" y="1183.92" style="font-size:24.1px;font-weight:bold;" fill="#231f20" textLength="22.92" lengthAdjust="spacingAndGlyphs" stroke="#fff" stroke-width="0.15">97</text>
<text x="1093.03" y="1183.92" style="font-size:24.1px;font-weight:bold;" fill="#231f20" textLength="22.92" lengthAdjust="spacingAndGlyphs" stroke="#fff" stroke-width="0.15">36</text>
<text x="1158.47" y="1183.92" style="font-size:24.1px;font-weight:bold;" fill="#231f20" textLength="22.92" lengthAdjust="spacingAndGlyphs" stroke="#fff" stroke-width="0.15">29</text>
<text x="1224.12" y="1183.92" style="font-size:24.1px;font-weight:bold;" fill="#231f20" textLength="22.92" lengthAdjust="spacingAndGlyphs" stroke="#fff" stroke-width="0.15">32</text>
<text x="1295.57" y="1183.92" style="font-size:24.1px;font-weight:bold;" fill="#231f20" textLength="11.46" lengthAdjust="spacingAndGlyphs" stroke="#fff" stroke-width="0.15">4</text>
<text x="1351.18" y="1183.92" style="font-size:24.1px;font-weight:bold;" fill="#231f20" textLength="34.38" lengthAdjust="spacingAndGlyphs" stroke="#fff" stroke-width="0.15">023</text>
</svg></body></html>
